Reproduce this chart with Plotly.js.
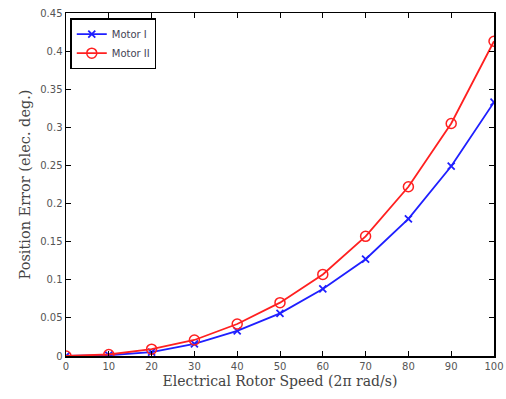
<!DOCTYPE html>
<html><head><meta charset="utf-8">
<script src="https://cdn.plot.ly/plotly-3.0.1.min.js"></script>
<style>html,body{margin:0;padding:0;background:#fff}</style>
</head><body><div id="chart" style="width:506px;height:399px"></div>
<script>
const speed = [0, 10, 20, 30, 40, 50, 60, 70, 80, 90, 100];
const motorI = [0, 0.001, 0.005, 0.016, 0.033, 0.056, 0.088, 0.127, 0.180, 0.249, 0.333];
const motorII = [0, 0.002, 0.009, 0.021, 0.042, 0.070, 0.107, 0.157, 0.222, 0.305, 0.413];
const xTicks = [0, 10, 20, 30, 40, 50, 60, 70, 80, 90, 100];
const yTicks = [0, 0.05, 0.1, 0.15, 0.2, 0.25, 0.3, 0.35, 0.4, 0.45];
const yTickText = ['0', '0.05', '0.1', '0.15', '0.2', '0.25', '0.3', '0.35', '0.4', '0.45'];

const traces = [
  {x: speed, y: motorI, name: 'Motor I', mode: 'lines+markers', type: 'scatter',
   line: {color: '#1f1fff', width: 1.8},
   marker: {symbol: 'x-thin-open', size: 7, color: '#1f1fff', line: {color: '#1f1fff', width: 1.8}}},
  {x: speed, y: motorII, name: 'Motor II', mode: 'lines+markers', type: 'scatter',
   line: {color: '#ff2020', width: 1.8},
   marker: {symbol: 'circle-open', size: 10, color: '#ff2020', line: {color: '#ff2020', width: 1.5}}}
];

const axisCommon = {
  showline: true, linecolor: '#000', linewidth: 1.5, mirror: 'ticks',
  ticks: 'inside', ticklen: 5, tickcolor: '#000', tickwidth: 1,
  showgrid: false, zeroline: false, ticklabeloverflow: 'allow',
  tickfont: {family: 'DejaVu Sans, sans-serif', size: 10, color: '#555'}
};

const layout = {
  width: 506, height: 399,
  margin: {l: 66, r: 12, t: 13, b: 43},
  paper_bgcolor: '#fff', plot_bgcolor: '#fff',
  showlegend: true,
  legend: {x: 0.01, y: 0.985, xanchor: 'left', yanchor: 'top',
    bgcolor: '#fff', bordercolor: '#000', borderwidth: 1.5,
    font: {family: 'DejaVu Sans, sans-serif', size: 10, color: '#445'},
    tracegroupgap: 0, itemwidth: 30},
  xaxis: Object.assign({}, axisCommon, {
    range: [0, 100], tickvals: xTicks, ticktext: xTicks.map(String),
    title: {text: 'Electrical Rotor Speed (2\u03c0 rad/s)', standoff: 5,
      font: {family: 'DejaVu Serif, serif', size: 14, color: '#444'}}
  }),
  yaxis: Object.assign({}, axisCommon, {
    range: [0, 0.45], tickvals: yTicks, ticktext: yTickText,
    title: {text: 'Position Error (elec. deg.)', standoff: 6,
      font: {family: 'DejaVu Serif, serif', size: 14.5, color: '#444'}}
  })
};

Plotly.newPlot('chart', traces, layout, {displayModeBar: false, staticPlot: true});
</script></body></html>
